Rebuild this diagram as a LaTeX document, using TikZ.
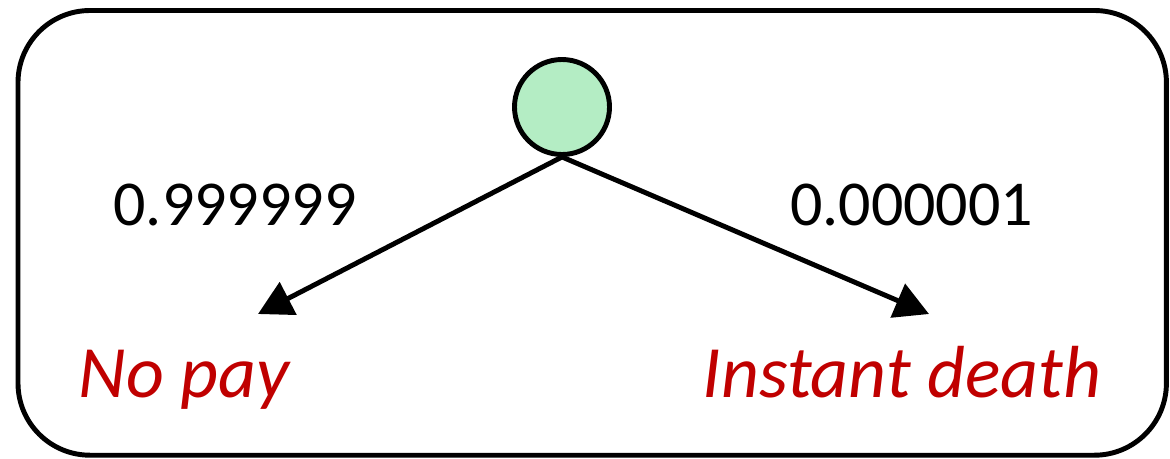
\documentclass[tikz,border=0pt]{standalone}
\usepackage{fontspec}
\setmainfont{Carlito}
\usetikzlibrary{arrows.meta}
\definecolor{chancegreen}{RGB}{180,237,196}
\definecolor{outcomered}{RGB}{192,0,0}

\begin{document}
\begin{tikzpicture}[
    edge/.style={line width=3.5pt, -{Triangle[length=0.85cm, width=0.9cm]}},
    prob/.style={anchor=base, font=\fontsize{45.5}{55}\selectfont},
    outcome/.style={anchor=base, text=outcomered, font=\fontsize{52.5}{63}\selectfont\itshape}
  ]
  \useasboundingbox (0,0) rectangle (29.25,-11.45);
  \draw[line width=3.5pt, rounded corners=1.8cm] (0.45,-0.2625) rectangle (29.16,-11.38);

  \node[circle, draw, line width=3.5pt, fill=chancegreen, minimum size=2.375cm, inner sep=0pt] (root) at (14.05,-2.675) {};

  % the arrows stop short of the outcomes
  \coordinate (endleft) at (6.45,-7.85);
  \coordinate (endright) at (23.225,-7.85);
  \draw[edge] (root.south) -- (endleft);
  \draw[edge] (root.south) -- (endright);

  \node[prob] (pleft) at (5.875,-5.625) {0.999999};
  \node[prob] (pright) at (22.79,-5.625) {0.000001};

  \node[outcome] (nopay) at (4.6,-9.925) {No pay};
  \node[outcome] (death) at (22.55,-9.925) {Instant death};
\end{tikzpicture}
\end{document}
